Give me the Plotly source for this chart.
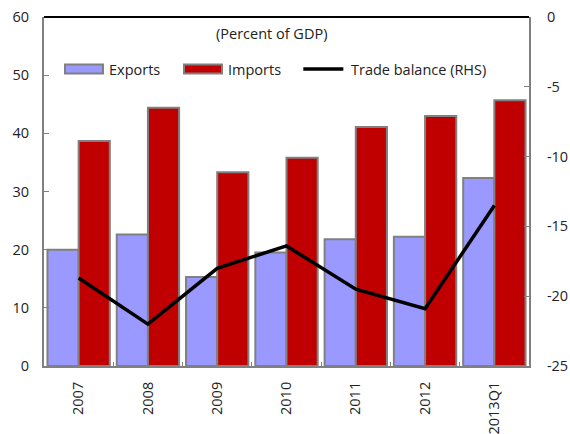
import plotly.graph_objects as go

# Trade data, percent of GDP
years = ["2007", "2008", "2009", "2010", "2011", "2012", "2013Q1"]
exports = [20.0, 22.6, 15.3, 19.5, 21.8, 22.2, 32.3]
imports = [38.7, 44.4, 33.3, 35.8, 41.1, 43.0, 45.7]
trade_balance = [-18.7, -22.0, -18.0, -16.4, -19.5, -20.9, -13.5]

# Right-hand axis ticks (plain hyphen for negatives)
rhs_tickvals = [0, -5, -10, -15, -20, -25]
rhs_ticktext = ["0", "-5", "-10", "-15", "-20", "-25"]

EXPORT_COLOR = "#9999FF"
IMPORT_COLOR = "#C00000"
OUTLINE = "#808080"
FONT = "Open Sans, DejaVu Sans, sans-serif"
TEXT_COLOR = "#222222"

fig = go.Figure()
fig.add_trace(go.Bar(x=years, y=exports, name="Exports",
                     marker=dict(color=EXPORT_COLOR, line=dict(color=OUTLINE, width=2)),
                     showlegend=False))
fig.add_trace(go.Bar(x=years, y=imports, name="Imports",
                     marker=dict(color=IMPORT_COLOR, line=dict(color=OUTLINE, width=2)),
                     showlegend=False))
fig.add_trace(go.Scatter(x=years, y=trade_balance, name="Trade balance (RHS)",
                         mode="lines", line=dict(color="black", width=3.5),
                         yaxis="y2", showlegend=False))

# Hand-built legend: wide swatches with labels
shapes = [
    dict(type="rect", xref="paper", yref="paper", x0=0.0433, x1=0.1216, y0=0.838, y1=0.864,
         fillcolor=EXPORT_COLOR, line=dict(color=OUTLINE, width=2)),
    dict(type="rect", xref="paper", yref="paper", x0=0.2887, x1=0.367, y0=0.838, y1=0.864,
         fillcolor=IMPORT_COLOR, line=dict(color=OUTLINE, width=2)),
    dict(type="line", xref="paper", yref="paper", x0=0.5347, x1=0.6172, y0=0.851, y1=0.851,
         line=dict(color="black", width=3.5)),
    # top border of the plot area
    dict(type="line", xref="paper", yref="paper", x0=0, x1=1, y0=1, y1=1,
         line=dict(color="black", width=2)),
]
annotations = [
    dict(text="Exports", xref="paper", yref="paper", x=0.1295, y=0.851,
         xanchor="left", yanchor="middle", showarrow=False),
    dict(text="Imports", xref="paper", yref="paper", x=0.3753, y=0.851,
         xanchor="left", yanchor="middle", showarrow=False),
    dict(text="Trade balance (RHS)", xref="paper", yref="paper", x=0.6289, y=0.851,
         xanchor="left", yanchor="middle", showarrow=False),
    dict(text="(Percent of GDP)", xref="paper", yref="paper", x=0.469, y=0.953,
         xanchor="center", yanchor="middle", showarrow=False),
]

fig.update_layout(
    width=570, height=434,
    margin=dict(l=44, r=41, t=17, b=68, autoexpand=False),
    paper_bgcolor="white", plot_bgcolor="white",
    font=dict(family=FONT, size=14.5, color=TEXT_COLOR),
    barmode="group", bargap=0.1, bargroupgap=0,
    showlegend=False,
    shapes=shapes,
    annotations=annotations,
    xaxis=dict(
        type="category", tickangle=-90, tickson="boundaries",
        ticks="inside", ticklen=4, tickcolor=OUTLINE, tickwidth=1,
        showline=True, linecolor=OUTLINE, linewidth=2,
        showgrid=False, zeroline=False, automargin=False,
        ticklabelstandoff=8,
        tickfont=dict(size=14.5),
    ),
    yaxis=dict(
        range=[0, 60], dtick=10, ticks="inside", ticklen=5,
        tickcolor=OUTLINE, tickwidth=1,
        showline=True, linecolor=OUTLINE, linewidth=2,
        showgrid=False, zeroline=False, automargin=False,
        ticklabelstandoff=10,
        tickfont=dict(size=14.5),
    ),
    yaxis2=dict(
        range=[-25, 0], tickmode="array", tickvals=rhs_tickvals, ticktext=rhs_ticktext,
        overlaying="y", side="right",
        ticks="inside", ticklen=5, tickcolor=OUTLINE, tickwidth=1,
        showline=True, linecolor=OUTLINE, linewidth=2,
        showgrid=False, zeroline=False, automargin=False,
        ticklabelstandoff=13,
        tickfont=dict(size=14.5),
    ),
)

fig.write_html("out.html")
